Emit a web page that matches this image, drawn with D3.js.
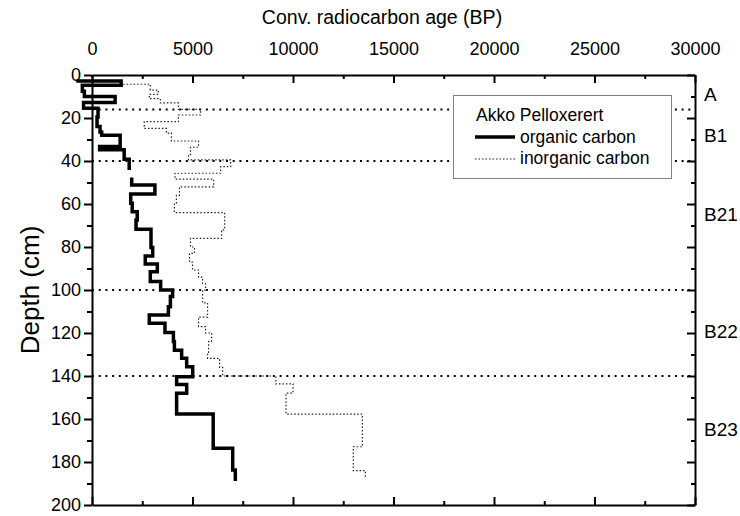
<!DOCTYPE html>
<html lang="en">
<head>
	<meta charset="utf-8">
	<script src="https://cdn.jsdelivr.net/npm/d3@7"></script>
	<style>
		body { margin: 0; background: #fff; }
		text { font-family: "Liberation Sans", Arial, sans-serif; fill: #000; }
	</style>
</head>
<body>
<div id="chart"></div>

<script type="text/javascript">
    "use strict";

    // organic carbon samples: depth interval (cm) and age (BP)
    const orgTop    = [2.8, 2.8, 4.8, 7.5, 10, 12.8, 15.5, 19.5, 24, 26.5, 28, 33.2, 34.8, 39.2,
                       48.5, 51.2, 55.3, 59.7, 63.6, 67.4, 71.8, 80.2, 84.2, 87.9, 91.5, 96, 100, 103,
                       107.8, 111.6, 115.5, 119.8, 124, 128, 131.8, 135.7, 140.3, 144, 148, 157.7, 173.6, 183.7];
    const orgBottom = [2.8, 4.8, 7.5, 10, 12.8, 15.5, 19.5, 24, 26.5, 28, 33.2, 34.8, 39.2, 43.4,
                       51.2, 55.3, 59.7, 63.6, 67.4, 71.8, 80.2, 84.2, 87.9, 91.5, 96, 100, 103, 107.8,
                       111.6, 115.5, 119.8, 124, 128, 131.8, 135.7, 140.3, 144, 148, 157.7, 173.6, 183.7, 188];
    const orgAge    = [-700, 1450, -480, -380, 1150, -420, 300, 250, 400, 480, 1400, 380, 1600, 1850,
                       1975, 3130, 1925, 2000, 2250, 2190, 2935, 3020, 2650, 3250, 2900, 3415, 4010, 3900,
                       3800, 2850, 3630, 4050, 4100, 4460, 4710, 5010, 4210, 4710, 4210, 6030, 7000, 7130];

    // inorganic carbon samples
    const inorgTop    = [4.3, 4.3, 7, 9, 11, 13, 16, 18.6, 21.7, 24.8, 27, 30.7, 33.6, 37, 39.5, 42.6,
                         45.7, 48.4, 52, 56, 60, 64, 72, 76, 80, 83, 87, 90.7, 94, 97, 100, 106, 112.6,
                         117, 120, 124, 129, 131.8, 136, 140, 143.7, 148, 157.7, 172.9, 184];
    const inorgBottom = [4.3, 7, 9, 11, 13, 16, 18.6, 21.7, 24.8, 27, 30.7, 33.6, 37, 39.5, 42.6, 45.7,
                         48.4, 52, 56, 60, 64, 72, 76, 80, 83, 87, 90.7, 94, 97, 100, 106, 112.6, 117,
                         120, 124, 129, 131.8, 136, 140, 143.7, 148, 157.7, 172.9, 184, 187];
    const inorgAge    = [1550, 2900, 3300, 2850, 3400, 4300, 5400, 4300, 2600, 3700, 3950, 5300, 4900,
                         4800, 6900, 6400, 4130, 6050, 4350, 4200, 4100, 6600, 6450, 4900, 5100, 4850,
                         5000, 5300, 5500, 5650, 5500, 5750, 5300, 5650, 5950, 5800, 5750, 6350, 6500,
                         9150, 10000, 9650, 13450, 13000, 13600];

    // soil horizons
    const horizonBounds = [16, 40, 100, 140];
    const horizonNames  = ["A", "B1", "B21", "B22", "B23"];
    const horizonMid    = [9, 28, 65, 119, 165];

    const xTicks = [0, 5000, 10000, 15000, 20000, 25000, 30000];
    const yTicks = [0, 20, 40, 60, 80, 100, 120, 140, 160, 180, 200];

    const W = 740, H = 516;
    const pLeft = 92, pRight = 695, pTop = 75, pBottom = 505;

    const x = d3.scaleLinear().domain([0, 30000]).range([pLeft, pRight]);
    const y = d3.scaleLinear().domain([0, 200]).range([pTop, pBottom]);

    const svg = d3.select("#chart").append("svg")
        .attr("width", W).attr("height", H);

    // build step path points from sample intervals, breaking where intervals don't touch
    function stepPoints(tops, bots, ages) {
      const pts = [];
      for (let i = 0; i < ages.length; i++) {
        if (i > 0 && tops[i] !== bots[i - 1]) pts.push(null);
        pts.push([ages[i], tops[i]]);
        pts.push([ages[i], bots[i]]);
      }
      return pts;
    }

    const line = d3.line()
        .defined(d => d !== null)
        .x(d => x(d[0]))
        .y(d => y(d[1]));

    // horizon boundaries
    svg.append("g").selectAll("line").data(horizonBounds).join("line")
        .attr("x1", pLeft).attr("x2", pRight)
        .attr("y1", d => y(d)).attr("y2", d => y(d))
        .attr("stroke", "#000").attr("stroke-width", 2)
        .attr("stroke-dasharray", "2,4.7");

    // inorganic carbon
    svg.append("path")
        .datum(stepPoints(inorgTop, inorgBottom, inorgAge))
        .attr("d", line)
        .attr("fill", "none").attr("stroke", "#222")
        .attr("stroke-width", 1.2).attr("stroke-dasharray", "1.5,2");

    // organic carbon
    svg.append("path")
        .datum(stepPoints(orgTop, orgBottom, orgAge))
        .attr("d", line)
        .attr("fill", "none").attr("stroke", "#000")
        .attr("stroke-width", 3.5).attr("stroke-linejoin", "miter")
        .attr("stroke-linecap", "square");

    // legend
    const lg = svg.append("g");
    lg.append("rect").attr("x", 453.5).attr("y", 95.5).attr("width", 218).attr("height", 83)
        .attr("fill", "#fff").attr("stroke", "#808080").attr("stroke-width", 1);
    lg.append("text").attr("x", 476).attr("y", 121).style("font-size", "17.5px").text("Akko Pelloxerert");
    lg.append("line").attr("x1", 475).attr("x2", 515).attr("y1", 137).attr("y2", 137)
        .attr("stroke", "#000").attr("stroke-width", 3.5);
    lg.append("text").attr("x", 520).attr("y", 143).style("font-size", "17.5px").text("organic carbon");
    lg.append("line").attr("x1", 475).attr("x2", 515).attr("y1", 159).attr("y2", 159)
        .attr("stroke", "#222").attr("stroke-width", 1.2).attr("stroke-dasharray", "1.5,2");
    lg.append("text").attr("x", 520).attr("y", 164).style("font-size", "17.5px").text("inorganic carbon");

    // axes
    function styleAxis(g) {
      g.select(".domain").attr("stroke-width", 2);
      g.selectAll(".tick line").attr("stroke-width", 2);
      g.selectAll(".tick text").style("font-size", "18px").attr("font-family", null);
    }

    const minorX = d3.range(2500, 30000, 5000);
    const minorY = d3.range(10, 200, 20);
    const fmt = d3.format("d");

    svg.append("g").attr("transform", `translate(0,${pTop})`)
        .call(d3.axisTop(x).tickValues(xTicks).tickFormat(fmt).tickSize(-8).tickSizeOuter(0).tickPadding(20))
        .call(styleAxis);
    svg.append("g").attr("transform", `translate(0,${pTop})`)
        .call(d3.axisTop(x).tickValues(minorX).tickSize(-4).tickFormat(""))
        .call(g => g.select(".domain").remove())
        .call(styleAxis);

    svg.append("g").attr("transform", `translate(0,${pBottom})`)
        .call(d3.axisBottom(x).tickValues(xTicks).tickSize(-8).tickSizeOuter(0).tickFormat(""))
        .call(styleAxis);
    svg.append("g").attr("transform", `translate(0,${pBottom})`)
        .call(d3.axisBottom(x).tickValues(minorX).tickSize(-4).tickFormat(""))
        .call(g => g.select(".domain").remove())
        .call(styleAxis);

    svg.append("g").attr("transform", `translate(${pLeft},0)`)
        .call(d3.axisLeft(y).tickValues(yTicks).tickFormat(fmt).tickSize(8).tickSizeOuter(0).tickPadding(3))
        .call(styleAxis);
    svg.append("g").attr("transform", `translate(${pLeft},0)`)
        .call(d3.axisLeft(y).tickValues(minorY).tickSize(5).tickFormat(""))
        .call(g => g.select(".domain").remove())
        .call(styleAxis);

    svg.append("g").attr("transform", `translate(${pRight},0)`)
        .call(d3.axisRight(y).tickValues(yTicks).tickSize(-8).tickSizeOuter(0).tickFormat(""))
        .call(styleAxis);
    svg.append("g").attr("transform", `translate(${pRight},0)`)
        .call(d3.axisRight(y).tickValues(minorY).tickSize(-4).tickFormat(""))
        .call(g => g.select(".domain").remove())
        .call(styleAxis);

    // horizon labels
    svg.append("g").selectAll("text").data(horizonNames).join("text")
        .attr("x", 704)
        .attr("y", (d, i) => y(horizonMid[i]))
        .attr("dy", "0.35em")
        .style("font-size", "19px")
        .text(d => d);

    // titles
    svg.append("text").attr("x", 382).attr("y", 24).attr("text-anchor", "middle")
        .style("font-size", "19.5px").text("Conv. radiocarbon age (BP)");
    svg.append("text")
        .attr("transform", `translate(39,${(pTop + pBottom) / 2}) rotate(-90)`)
        .attr("text-anchor", "middle")
        .style("font-size", "26px").text("Depth (cm)");
</script>

</body>
</html>
